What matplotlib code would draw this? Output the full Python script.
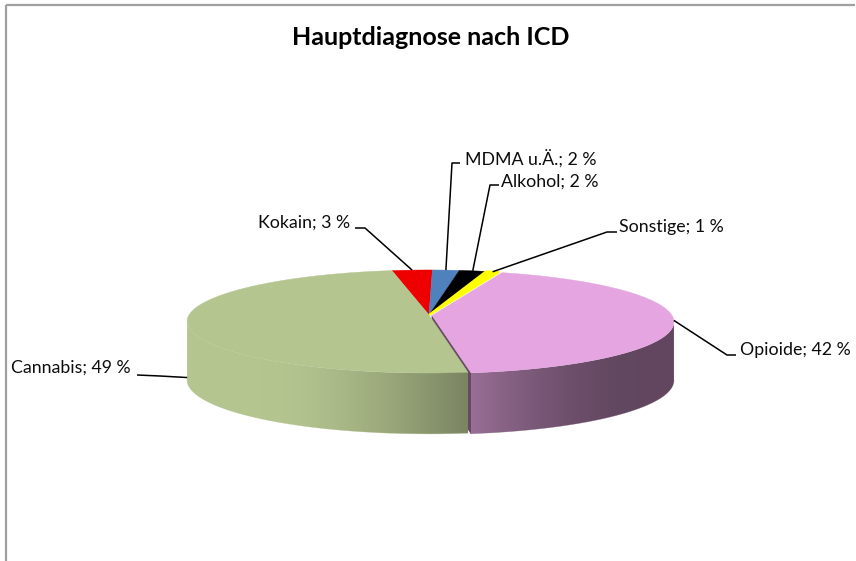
import numpy as np
import matplotlib
matplotlib.use("Agg")
import matplotlib.pyplot as plt
from matplotlib.colors import to_rgb

# ---------------- data (clockwise from 12 o'clock) ----------------
categories = ["Kokain", "MDMA u.Ä.", "Alkohol", "Sonstige", "Opioide", "Cannabis"]
values = [3, 2, 2, 1, 42, 49]
colors = ["#ee0000", "#4f81bd", "#000000", "#ffff00", "#e4a5e0", "#b5c590"]
title = "Hauptdiagnose nach ICD"

# ---------------- layout ----------------
W, H = 856, 561
START = -10.0                 # start angle (deg, clockwise from 12 o'clock)
CX, CY = 429.0, 315.0         # projected centre of the pie top
A, C, B = 240.0, 50.7, 0.126  # horizontal radius, vertical radius, perspective
DEPTH = 58.0                  # wall height (px)
offsets = {"Opioide": (3.0, 0.5)}
edge_lw = {"Sonstige": 1.6}

# text (x, y, ha), elbow point, end point, anchor depth fraction
label_layout = {
    "Kokain":     ((350, 223, "right"), (365, 228), (355, 228), 0.0),
    "MDMA u.Ä.":  ((465, 159, "left"),  (452, 163), (460, 163), 0.0),
    "Alkohol":    ((501, 182, "left"),  (490, 185), (499, 185), 0.0),
    "Sonstige":   ((619, 227, "left"),  (607, 232), (617, 232), 0.0),
    "Opioide":    ((740, 350, "left"),  (727, 355), (736, 355), 0.0),
    "Cannabis":   ((131, 368, "right"), (160, 376), (137, 375), 0.93),
}


def proj(theta, r=1.0, depth=0.0, off=(0.0, 0.0)):
    t = np.radians(theta)
    u = r * np.sin(t)
    v = -r * np.cos(t)
    w = 1 - B * v
    x = CX + A * u / w + off[0]
    y = CY + C * v / w + off[1] + depth * DEPTH * (1 + 0.05 * v)
    return x, y


def shade_factor(x):
    t = np.clip((x - 260) / 380.0, 0, 1)
    s = t * t * (3 - 2 * t)
    return 1 - 0.57 * s


def shade(col, x):
    return tuple(np.clip(np.array(to_rgb(col)) * shade_factor(x), 0, 1))


fig = plt.figure(figsize=(W / 100, H / 100), dpi=100)
ax = fig.add_axes([0, 0, 1, 1])
ax.set_xlim(0, W)
ax.set_ylim(H, 0)
ax.axis("off")

total = float(sum(values))
spans = [v / total * 360.0 for v in values]
starts = list(START + np.concatenate([[0], np.cumsum(spans)[:-1]]))
ends = [s + sp for s, sp in zip(starts, spans)]

# radial face of the offset slice (seen through the small gap)
for cat, s, e, col in zip(categories, starts, ends, colors):
    if cat in offsets:
        off = offsets[cat]
        pts = [proj(e, 0, 0, off), proj(e, 1, 0, off), proj(e, 1, 1, off), proj(e, 0, 1, off)]
        ax.add_patch(plt.Polygon(pts, closed=True, fc=shade(col, 600), ec=shade(col, 600),
                                 lw=0.5, zorder=1))

# outer walls with horizontal gradient
vis_lo, vis_hi = 97.2, 262.8
for cat, s, e, col in zip(categories, starts, ends, colors):
    lo, hi = max(s, vis_lo), min(e, vis_hi)
    if hi <= lo:
        continue
    off = offsets.get(cat, (0.0, 0.0))
    th = np.linspace(lo, hi, 300)
    xt, yt = proj(th, 1, 0, off)
    xb, yb = proj(th, 1, 1, off)
    pts = list(zip(xt, yt)) + list(zip(xb[::-1], yb[::-1]))
    poly = plt.Polygon(pts, closed=True, fc="none", ec="none", zorder=2)
    ax.add_patch(poly)
    x0, x1 = min(xt.min(), xb.min()) - 1, max(xt.max(), xb.max()) + 1
    y0, y1 = min(yt.min(), yb.min()) - 1, max(yt.max(), yb.max()) + 1
    xs = np.linspace(x0, x1, 400)
    grad = np.array([shade(col, x) for x in xs])[None, :, :]
    im = ax.imshow(grad, extent=(x0, x1, y1, y0), aspect="auto",
                   interpolation="bilinear", zorder=2)
    im.set_clip_path(poly)
    # soft antialiased outline in matching colours
    ax.plot(xb, yb, color=shade(col, 0.5 * (x0 + x1)), lw=0.4, alpha=0.5, zorder=2)

ax.set_xlim(0, W)
ax.set_ylim(H, 0)

# top faces
for cat, s, e, col in zip(categories, starts, ends, colors):
    off = offsets.get(cat, (0.0, 0.0))
    th = np.linspace(s, e, max(int((e - s) * 2), 8))
    xs, ys = proj(th, 1, 0, off)
    cx, cy = proj(0, 0, 0, off)
    pts = [(cx, cy)] + list(zip(xs, ys))
    ax.add_patch(plt.Polygon(pts, closed=True, fc=col, ec=col,
                             lw=edge_lw.get(cat, 0.3), joinstyle="miter", zorder=3))

fam = ["Lato", "DejaVu Sans"]
lbl_size = 12.8
title_size = 18.0

for cat, s, e, v in zip(categories, starts, ends, values):
    (tx, ty, ha), elbow, end, dfrac = label_layout[cat]
    mid = 0.5 * (s + e)
    off = offsets.get(cat, (0.0, 0.0))
    ax_, ay_ = proj(mid, 1, dfrac, off)
    ax.plot([ax_, elbow[0], end[0]], [ay_, elbow[1], end[1]], color="black",
            lw=1.1, zorder=4, solid_capstyle="butt")
    ax.text(tx, ty, f"{cat}; {v} %", ha=ha, va="center", fontsize=lbl_size,
            family=fam, color="#0d0d0d", zorder=5)

ax.text(431, 37, title, ha="center", va="center", fontsize=title_size,
        fontweight="bold", family=fam, color="black")

# chart frame (top and left edges visible)
ax.plot([6, 855], [5, 5], color="#a0a0a0", lw=1.6, solid_capstyle="butt")
ax.plot([6, 6], [5, H], color="#a0a0a0", lw=1.6, solid_capstyle="butt")

fig.savefig("out.png", dpi=100)
